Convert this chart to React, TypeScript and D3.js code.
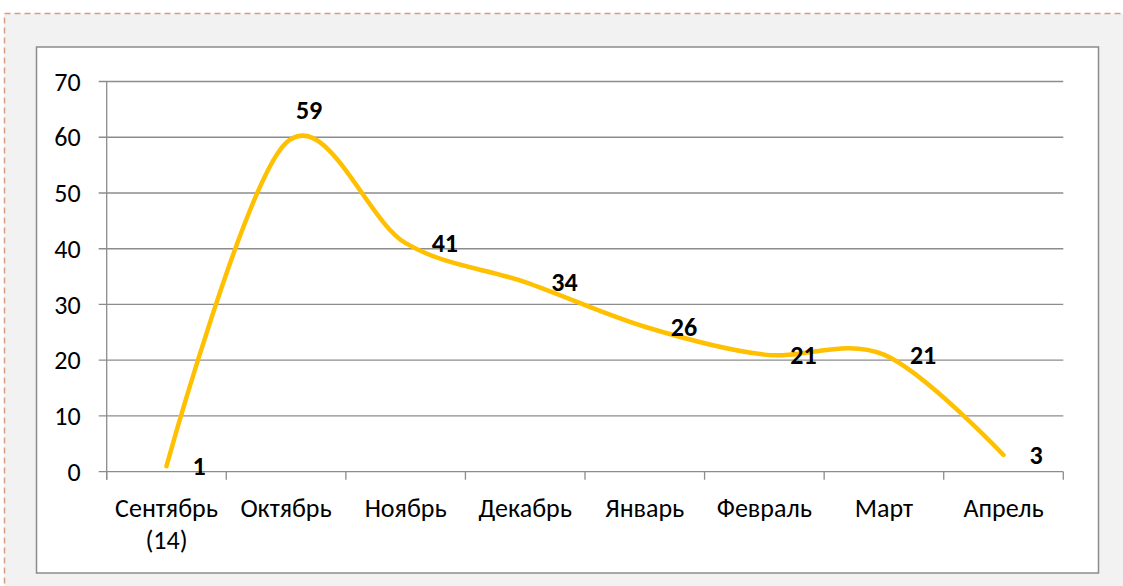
import React, { useEffect, useRef } from "react";
import * as d3 from "d3";

const months = ["Сентябрь (14)", "Октябрь", "Ноябрь", "Декабрь", "Январь", "Февраль", "Март", "Апрель"];
const counts = [1, 59, 41, 34, 26, 21, 21, 3];
const yTicks = [0, 10, 20, 30, 40, 50, 60, 70];
// where each value label sits relative to its point
const labelSide = ["right", "above", "right", "right", "right", "right", "right", "right"];

const FONT = "Carlito, Lato, 'Noto Sans', sans-serif";

const App = () => {
  const ref = useRef<SVGSVGElement>(null);

  useEffect(() => {
    drawChart();
  }, []);

  const drawChart = () => {
    const svg = d3.select(ref.current);
    svg.selectAll("*").remove();

    // page background with dashed frame
    svg.append("rect").attr("width", 1123).attr("height", 586).attr("fill", "#ffffff");
    svg
      .append("rect")
      .attr("x", 4.5)
      .attr("y", 13.5)
      .attr("width", 1140)
      .attr("height", 600)
      .attr("fill", "#f2f2f2")
      .attr("stroke", "#d59c84")
      .attr("stroke-width", 1.5)
      .attr("stroke-dasharray", "6,4");

    // chart box
    svg
      .append("rect")
      .attr("x", 36.5)
      .attr("y", 47)
      .attr("width", 1062)
      .attr("height", 526)
      .attr("fill", "#ffffff")
      .attr("stroke", "#8c8c8c")
      .attr("stroke-width", 1.5);

    const left = 106.7;
    const right = 1063.3;
    const top = 81.5;
    const bottom = 471.7;

    const x = d3.scaleBand().domain(months).range([left, right]);
    const y = d3.scaleLinear().domain([0, 70]).range([bottom, top]);

    const g = svg.append("g");

    // gridlines
    g.selectAll(".grid")
      .data(yTicks)
      .enter()
      .append("line")
      .attr("x1", left - 8)
      .attr("x2", right)
      .attr("y1", (d) => y(d))
      .attr("y2", (d) => y(d))
      .attr("stroke", "#8c8c8c")
      .attr("stroke-width", 1.3);

    // y axis line
    g.append("line")
      .attr("x1", left)
      .attr("x2", left)
      .attr("y1", top)
      .attr("y2", bottom + 8)
      .attr("stroke", "#8c8c8c")
      .attr("stroke-width", 1.3);

    // x tick marks at band edges
    const edges = months.map((m) => x(m)!).concat([right]);
    g.selectAll(".xtick")
      .data(edges)
      .enter()
      .append("line")
      .attr("x1", (d) => d)
      .attr("x2", (d) => d)
      .attr("y1", bottom)
      .attr("y2", bottom + 8)
      .attr("stroke", "#8c8c8c")
      .attr("stroke-width", 1.3);

    // y tick labels
    g.selectAll(".ylab")
      .data(yTicks)
      .enter()
      .append("text")
      .attr("x", left - 26)
      .attr("y", (d) => y(d))
      .attr("dy", "0.35em")
      .attr("text-anchor", "end")
      .attr("font-family", FONT)
      .attr("font-size", 26)
      .attr("fill", "#000")
      .text((d) => d);

    // x labels (split the "(14)" onto second line)
    const xl = g
      .selectAll(".xlab")
      .data(months)
      .enter()
      .append("text")
      .attr("text-anchor", "middle")
      .attr("font-family", FONT)
      .attr("font-size", 26)
      .attr("fill", "#000");
    xl.each(function (d) {
      const parts = d.split(" ");
      const cx = x(d)! + x.bandwidth() / 2;
      parts.forEach((p, i) => {
        d3.select(this)
          .append("tspan")
          .attr("x", cx)
          .attr("y", 517 + i * 32)
          .text(p);
      });
    });

    // smoothed line
    const line = d3
      .line<number>()
      .x((d, i) => x(months[i])! + x.bandwidth() / 2)
      .y((d) => y(d))
      .curve(d3.curveCardinal.tension(0));

    g.append("path")
      .datum(counts)
      .attr("d", line)
      .attr("fill", "none")
      .attr("stroke", "#ffc000")
      .attr("stroke-width", 4.5)
      .attr("stroke-linecap", "round");

    // value labels
    g.selectAll(".val")
      .data(counts)
      .enter()
      .append("text")
      .attr("x", (d, i) => {
        const cx = x(months[i])! + x.bandwidth() / 2;
        return labelSide[i] === "above" ? cx + 23 : cx + 26;
      })
      .attr("y", (d, i) => (labelSide[i] === "above" ? y(d) - 33 : y(d)))
      .attr("dy", "0.35em")
      .attr("text-anchor", (d, i) => (labelSide[i] === "above" ? "middle" : "start"))
      .attr("font-family", FONT)
      .attr("font-size", 26)
      .attr("font-weight", "bold")
      .attr("fill", "#000")
      .text((d) => d);
  };

  return (
    <div>
      <svg
        ref={ref}
        width="1123"
        height="586"
        style={{ position: "absolute", left: 0, top: 0 }}
      ></svg>
    </div>
  );
};

export default App;
